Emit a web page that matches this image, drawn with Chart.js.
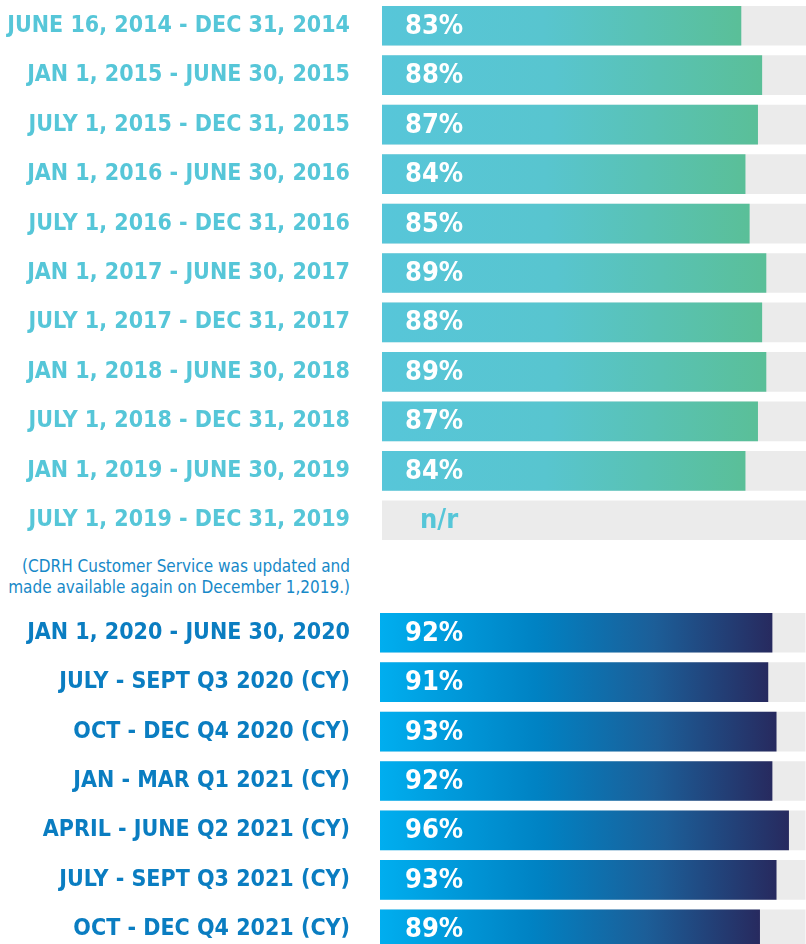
<!DOCTYPE html>
<html>
<head>
<meta charset="utf-8">
<script src="https://cdn.jsdelivr.net/npm/chart.js@4/dist/chart.umd.min.js"></script>
<style>
  html, body { margin: 0; padding: 0; background: #fff; width: 806px; height: 944px; overflow: hidden; position: relative; }
  canvas { display: block; }
  #top { position: absolute; left: 0; top: 0; }
  #bot { position: absolute; left: 0; top: 608px; }
  #note { position: absolute; right: 456px; top: 556px; text-align: right; font-family: 'DejaVu Sans Condensed', 'DejaVu Sans', sans-serif; font-size: 17px; line-height: 21px; color: #1789C8; white-space: nowrap; }
</style>
</head>
<body>
<canvas id="top" width="806" height="545"></canvas>
<div id="note">(CDRH Customer Service was updated and<br>made available again on December 1,2019.)</div>
<canvas id="bot" width="806" height="346"></canvas>
<script>
const topCategories = [
  "JUNE 16, 2014 - DEC 31, 2014",
  "JAN 1, 2015 - JUNE 30, 2015",
  "JULY 1, 2015 - DEC 31, 2015",
  "JAN 1, 2016 - JUNE 30, 2016",
  "JULY 1, 2016 - DEC 31, 2016",
  "JAN 1, 2017 - JUNE 30, 2017",
  "JULY 1, 2017 - DEC 31, 2017",
  "JAN 1, 2018 - JUNE 30, 2018",
  "JULY 1, 2018 - DEC 31, 2018",
  "JAN 1, 2019 - JUNE 30, 2019",
  "JULY 1, 2019 - DEC 31, 2019"
];
const topValues = [83, 88, 87, 84, 85, 89, 88, 89, 87, 84, null];

const bottomCategories = [
  "JAN 1, 2020 - JUNE 30, 2020",
  "JULY - SEPT Q3 2020 (CY)",
  "OCT - DEC Q4 2020 (CY)",
  "JAN - MAR Q1 2021 (CY)",
  "APRIL - JUNE Q2 2021 (CY)",
  "JULY - SEPT Q3 2021 (CY)",
  "OCT - DEC Q4 2021 (CY)"
];
const bottomValues = [92, 91, 93, 92, 96, 93, 89];

const trackValue = 100;
const missingLabel = "n/r";

const FONT = "'DejaVu Sans Condensed', 'DejaVu Sans', sans-serif";

function makeChart(canvasId, cats, vals, opts) {
  const gradientFill = (context) => {
    const chart = context.chart;
    if (!chart.chartArea) return opts.stops[0][1];
    const xs = chart.scales.x;
    const x0 = xs.getPixelForValue(opts.min);
    const x1 = xs.getPixelForValue(context.raw == null ? opts.min : context.raw);
    if (!(x1 > x0)) return opts.stops[0][1];
    const g = chart.ctx.createLinearGradient(x0, 0, x1, 0);
    opts.stops.forEach(s => g.addColorStop(s[0], s[1]));
    return g;
  };
  const valueLabels = {
    id: 'valueLabels',
    afterDatasetsDraw(chart) {
      const ctx = chart.ctx;
      const meta = chart.getDatasetMeta(0);
      ctx.save();
      ctx.font = "bold 27px " + FONT;
      ctx.textBaseline = 'middle';
      ctx.textAlign = 'left';
      meta.data.forEach((bar, i) => {
        const v = vals[i];
        const y = bar.y + 1;
        if (v == null) {
          ctx.fillStyle = opts.labelColor;
          ctx.fillText(missingLabel, opts.naX, y);
        } else {
          ctx.fillStyle = '#ffffff';
          ctx.fillText(v + '%', opts.textX, y);
        }
      });
      ctx.restore();
    }
  };
  return new Chart(document.getElementById(canvasId), {
    type: 'bar',
    data: {
      labels: cats,
      datasets: [
        {
          data: vals,
          backgroundColor: gradientFill,
          borderWidth: 0,
          grouped: false,
          order: 1,
          base: opts.min,
          barThickness: 39
        },
        {
          data: cats.map(() => trackValue),
          backgroundColor: '#EBEBEB',
          borderWidth: 0,
          grouped: false,
          order: 2,
          base: opts.min,
          barThickness: 39
        }
      ]
    },
    options: {
      indexAxis: 'y',
      responsive: false,
      animation: false,
      devicePixelRatio: 1,
      layout: { padding: { top: opts.padTop, bottom: opts.padBottom, left: 0, right: 0 } },
      plugins: { legend: { display: false }, tooltip: { enabled: false } },
      scales: {
        x: {
          min: opts.min, max: opts.max,
          display: false,
          grid: { display: false }
        },
        y: {
          grid: { display: false, drawTicks: false },
          border: { display: false },
          afterFit(scale) {
            scale.width = opts.axisWidth;
            scale.paddingTop = 0;
            scale.paddingBottom = 0;
          },
          ticks: {
            padding: opts.tickPad,
            color: opts.labelColor,
            font: { family: FONT, weight: 'bold', size: opts.labelSize }
          }
        }
      }
    },
    plugins: [valueLabels]
  });
}

makeChart('top', topCategories, topValues, {
  min: -3.1, max: 98.6, axisWidth: 382, tickPad: 32, labelSize: 23,
  labelColor: '#56C6D8', textX: 405, naX: 420, padTop: 1, padBottom: 0,
  stops: [[0, '#57C6D9'], [0.45, '#58C5CF'], [1, '#5ABF98']]
});

makeChart('bot', bottomCategories, bottomValues, {
  min: -2.7, max: 100.2, axisWidth: 380, tickPad: 30, labelSize: 23,
  labelColor: '#0A7DC1', textX: 405, naX: 420, padTop: 0, padBottom: 0,
  stops: [[0, '#00AEEF'], [0.4, '#0082C3'], [0.7, '#1C5E98'], [1, '#272A5F']]
});
</script>
</body>
</html>
